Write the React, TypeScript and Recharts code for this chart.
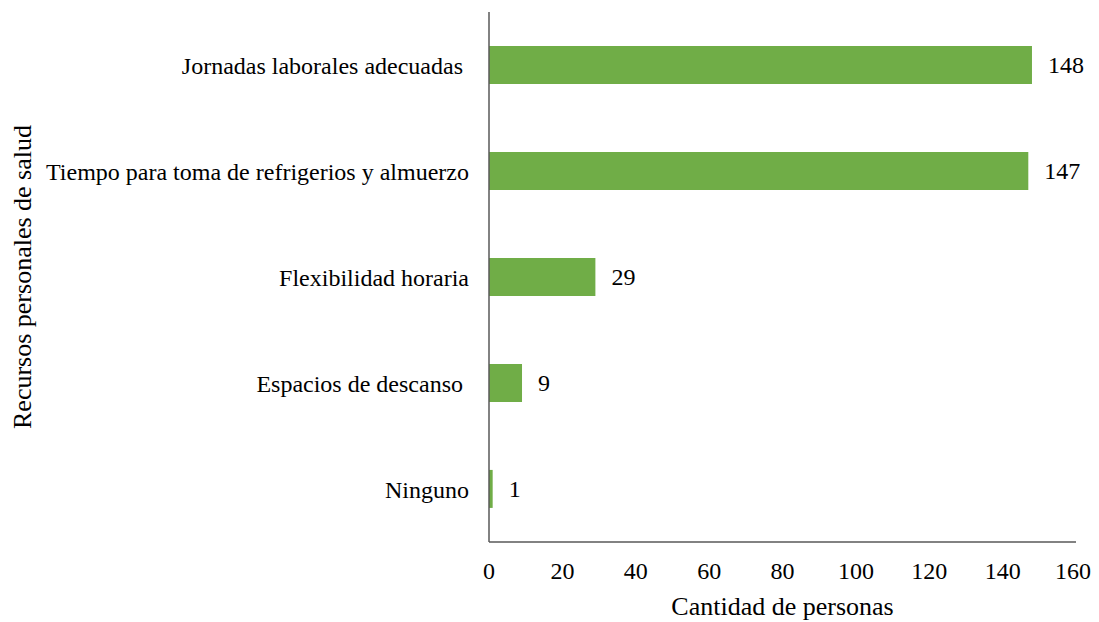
import React from "react";
import { BarChart, Bar, XAxis, YAxis, LabelList } from "recharts";

const categories = [
  "Jornadas laborales adecuadas\u00A0",
  "Tiempo para toma de refrigerios y almuerzo",
  "Flexibilidad horaria",
  "Espacios de descanso\u00A0",
  "Ninguno",
];
const values = [148, 147, 29, 9, 1];
const xTicks = [0, 20, 40, 60, 80, 100, 120, 140, 160];

const data = categories.map((c, i) => ({ name: c, value: values[i] }));

const FONT = "'Liberation Serif', 'Times New Roman', serif";

export default function App() {
  return (
    <div style={{ width: 1083, height: 614 }}>
      <BarChart
        width={1083}
        height={614}
        data={data}
        layout="vertical"
        margin={{ top: 4, right: 15, bottom: 0, left: 0 }}
        barCategoryGap="32%"
      >
        <XAxis
          type="number"
          domain={[0, 160]}
          ticks={xTicks}
          height={80}
          tickLine={false}
          tickSize={0}
          tickMargin={20}
          axisLine={{ stroke: "#595959", strokeWidth: 1.5 }}
          tick={{ fill: "#000", fontSize: 24, fontFamily: FONT }}
          label={{
            content: (props: any) => {
              const vb = props.viewBox || { x: 481, width: 587 };
              const cx = vb.x + vb.width / 2;
              return (
                <text
                  x={cx}
                  y={607}
                  textAnchor="middle"
                  fill="#000"
                  fontSize={26}
                  fontFamily={FONT}
                >
                  Cantidad de personas
                </text>
              );
            },
          }}
        />
        <YAxis
          type="category"
          dataKey="name"
          width={481}
          tickLine={false}
          tickSize={0}
          tickMargin={20}
          axisLine={{ stroke: "#595959", strokeWidth: 1.5 }}
          tick={{ fill: "#000", fontSize: 24, fontFamily: FONT }}
          interval={0}
          label={{
            content: (props: any) => {
              const vb = props.viewBox || { x: 0, y: 4, height: 529 };
              const cy = vb.y + vb.height / 2;
              return (
                <text
                  x={23}
                  y={cy}
                  transform={`rotate(-90, 23, ${cy})`}
                  textAnchor="middle"
                  fill="#000"
                  fontSize={26}
                  fontFamily={FONT}
                >
                  Recursos personales de salud
                </text>
              );
            },
          }}
        />
        <Bar dataKey="value" fill="#70AD47" isAnimationActive={false}>
          <LabelList
            dataKey="value"
            position="right"
            offset={16}
            fill="#000"
            fontSize={24}
            fontFamily={FONT}
          />
        </Bar>
      </BarChart>
    </div>
  );
}
